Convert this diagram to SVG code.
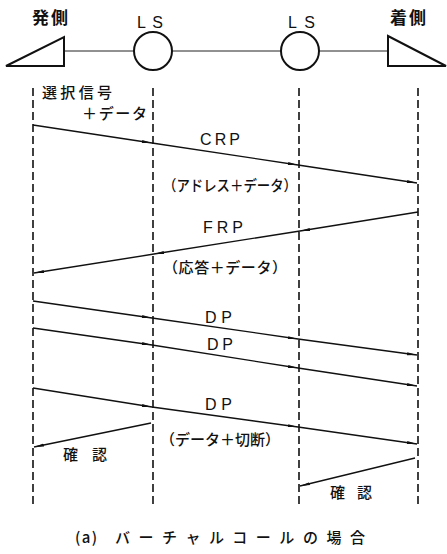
<svg xmlns="http://www.w3.org/2000/svg" width="447" height="554" viewBox="0 0 447 554">
<style>
.bg{fill:#fff}
.shape{fill:#fff;stroke:#111;stroke-width:2}
.link{stroke:#222;stroke-width:1;fill:none}
.life{stroke:#111;stroke-width:1.6;stroke-dasharray:8 4;fill:none}
.msg{stroke:#111;stroke-width:1.3;fill:none}
.t{font-family:"Noto Sans CJK JP","Liberation Sans",sans-serif;fill:#111;font-size:15px;font-weight:500}
.h{font-family:"Noto Sans CJK JP","Liberation Sans",sans-serif;fill:#111;font-size:17px;font-weight:bold}
.l{font-family:"Liberation Sans",Arial,sans-serif;fill:#111;font-size:16px}
</style>
<defs>
<marker id="ah" markerUnits="userSpaceOnUse" viewBox="0 0 10 4" refX="10" refY="2" markerWidth="10" markerHeight="4" orient="auto">
<path d="M0,0.5 L10,2 L0,3.5 Z" fill="#111"/>
</marker>
</defs>
<rect class="bg" x="0" y="0" width="447" height="554"/>
<g id="links">
<line class="link" x1="64" y1="51" x2="134" y2="51"/>
<line class="link" x1="172" y1="51" x2="281" y2="51"/>
<line class="link" x1="319" y1="51" x2="388" y2="51"/>
</g>
<g id="origin">
<path class="shape" d="M6,66 L64,37 L64,66 Z"/>
<text class="h" x="32" y="24" textLength="36" lengthAdjust="spacing">発側</text>
</g>
<g id="ls1">
<circle class="shape" cx="153" cy="51" r="19"/>
<text class="l" x="137" y="28" textLength="26" lengthAdjust="spacing">LS</text>
</g>
<g id="ls2">
<circle class="shape" cx="300" cy="51" r="19"/>
<text class="l" x="288" y="28" textLength="27" lengthAdjust="spacing">LS</text>
</g>
<g id="dest">
<path class="shape" d="M388,36 L388,66 L446,66 Z"/>
<text class="h" x="390" y="24" textLength="36" lengthAdjust="spacing">着側</text>
</g>
<g id="lifelines">
<line class="life" x1="33" y1="88" x2="33" y2="508"/>
<line class="life" x1="153" y1="88" x2="153" y2="508"/>
<line class="life" x1="299" y1="88" x2="299" y2="508"/>
<line class="life" x1="418" y1="88" x2="418" y2="508"/>
</g>
<g id="connectors">
<path class="msg" d="M33,125 L152,143 L298,165 L417,183" marker-mid="url(#ah)" marker-end="url(#ah)"/>
<path class="msg" d="M418,212 L300,231 L154,254 L34,273" marker-mid="url(#ah)" marker-end="url(#ah)"/>
<path class="msg" d="M33,301 L152,318 L298,339 L417,355" marker-mid="url(#ah)" marker-end="url(#ah)"/>
<path class="msg" d="M33,328 L152,345 L298,368 L417,386" marker-mid="url(#ah)" marker-end="url(#ah)"/>
<path class="msg" d="M33,388 L152,407 L298,427 L417,444" marker-mid="url(#ah)" marker-end="url(#ah)"/>
<path class="msg" d="M151,423 L34,447" marker-end="url(#ah)"/>
<path class="msg" d="M415,458 L300,486" marker-end="url(#ah)"/>
</g>
<g id="labels">
<text class="t" x="42" y="98" textLength="70" lengthAdjust="spacing">選択信号</text>
<text class="t" x="82" y="119" textLength="65" lengthAdjust="spacing">＋データ</text>
<text class="l" x="200" y="145" textLength="40" lengthAdjust="spacing">CRP</text>
<text class="t" x="163" y="191" font-size="14" textLength="134" lengthAdjust="spacingAndGlyphs">（アドレス＋データ）</text>
<text class="l" x="203" y="233" textLength="40" lengthAdjust="spacing">FRP</text>
<text class="t" x="163" y="273" font-size="14" textLength="124" lengthAdjust="spacing">（応答＋データ）</text>
<text class="l" x="205" y="323" textLength="27" lengthAdjust="spacing">DP</text>
<text class="l" x="207" y="350" textLength="26" lengthAdjust="spacing">DP</text>
<text class="l" x="205" y="410" textLength="27" lengthAdjust="spacing">DP</text>
<text class="t" x="160" y="445" font-size="14" textLength="120" lengthAdjust="spacing">（データ＋切断）</text>
<text class="t" x="63" y="460" textLength="44" lengthAdjust="spacing">確認</text>
<text class="t" x="330" y="498" textLength="42" lengthAdjust="spacing">確認</text>
<text class="t" x="75" y="543" font-size="14" textLength="22" lengthAdjust="spacing">(a)</text>
<text class="t" x="115" y="543" font-size="14" textLength="250" lengthAdjust="spacing">バーチャルコールの場合</text>
</g>
</svg>
